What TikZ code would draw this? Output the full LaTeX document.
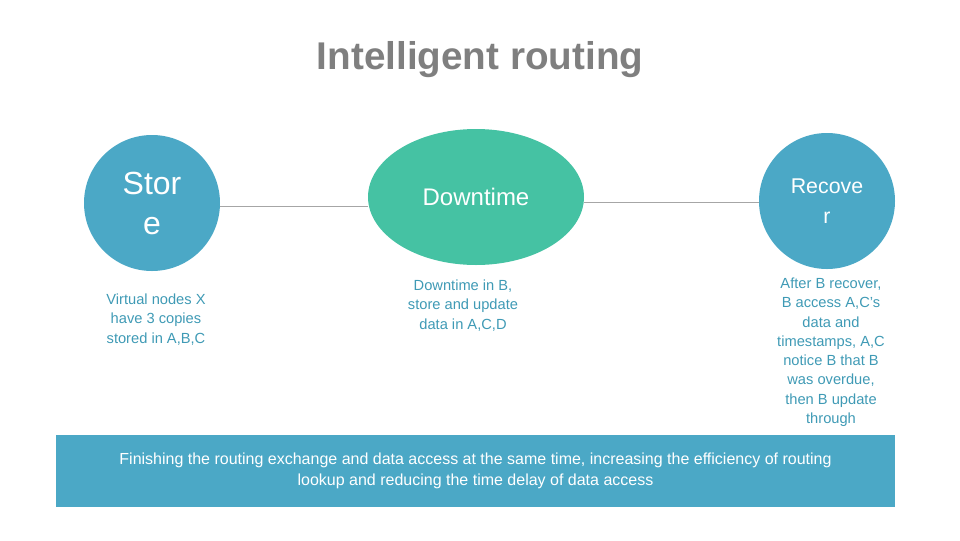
\documentclass[tikz,border=0pt]{standalone}
\usepackage{fontspec}
\setmainfont{Liberation Sans}
\usetikzlibrary{shapes.geometric}
\definecolor{cblue}{HTML}{4BA8C6}
\definecolor{cgreen}{HTML}{45C2A3}
\definecolor{ctext}{HTML}{3F9AB5}
\definecolor{ctitle}{HTML}{7F7F7F}
\begin{document}
\begin{tikzpicture}[x=0.75pt,y=-0.75pt,
  circ/.style={circle,fill=cblue,minimum size=102pt,inner sep=0pt,text=white,align=center},
  desc/.style={text=ctext,align=center,font=\fontsize{11}{14.5}\selectfont},
  conn/.style={draw=gray!70,line width=0.6pt}]
\useasboundingbox (0,0) rectangle (960,540);
\node[text=ctitle,font=\bfseries\fontsize{29}{34}\selectfont] (title) at (480,60) {Intelligent routing};
\node[circ,font=\fontsize{24}{30}\selectfont] (store) at (152,203) {Stor\\e};
\node[ellipse,fill=cgreen,minimum width=162pt,minimum height=102pt,text=white,font=\fontsize{18}{22}\selectfont] (down) at (476,197) {Downtime};
\node[circ,font=\fontsize{16}{22}\selectfont] (rec) at (827,201) {Recove\\r};
\draw[conn] (store.east|-0,206) -- (down.west|-0,206);
\draw[conn] (down.east|-0,202) -- (rec.west|-0,202);
\node[desc,anchor=north] (d1) at (156,289) {Virtual nodes X\\have 3 copies\\stored in A,B,C};
\node[desc,anchor=north] (d2) at (463,275) {Downtime in B,\\store and update\\data in A,C,D};
\node[desc,anchor=north] (d3) at (831,273) {After B recover,\\B access A,C’s\\data and\\timestamps, A,C\\notice B that B\\was overdue,\\then B update\\through};
\node[fill=cblue,minimum width=629pt,minimum height=54pt,text=white,align=center,font=\fontsize{12}{16}\selectfont] (box) at (475.5,471) {Finishing the routing exchange and data access at the same time, increasing the efficiency of routing\\lookup and reducing the time delay of data access};
\end{tikzpicture}
\end{document}
